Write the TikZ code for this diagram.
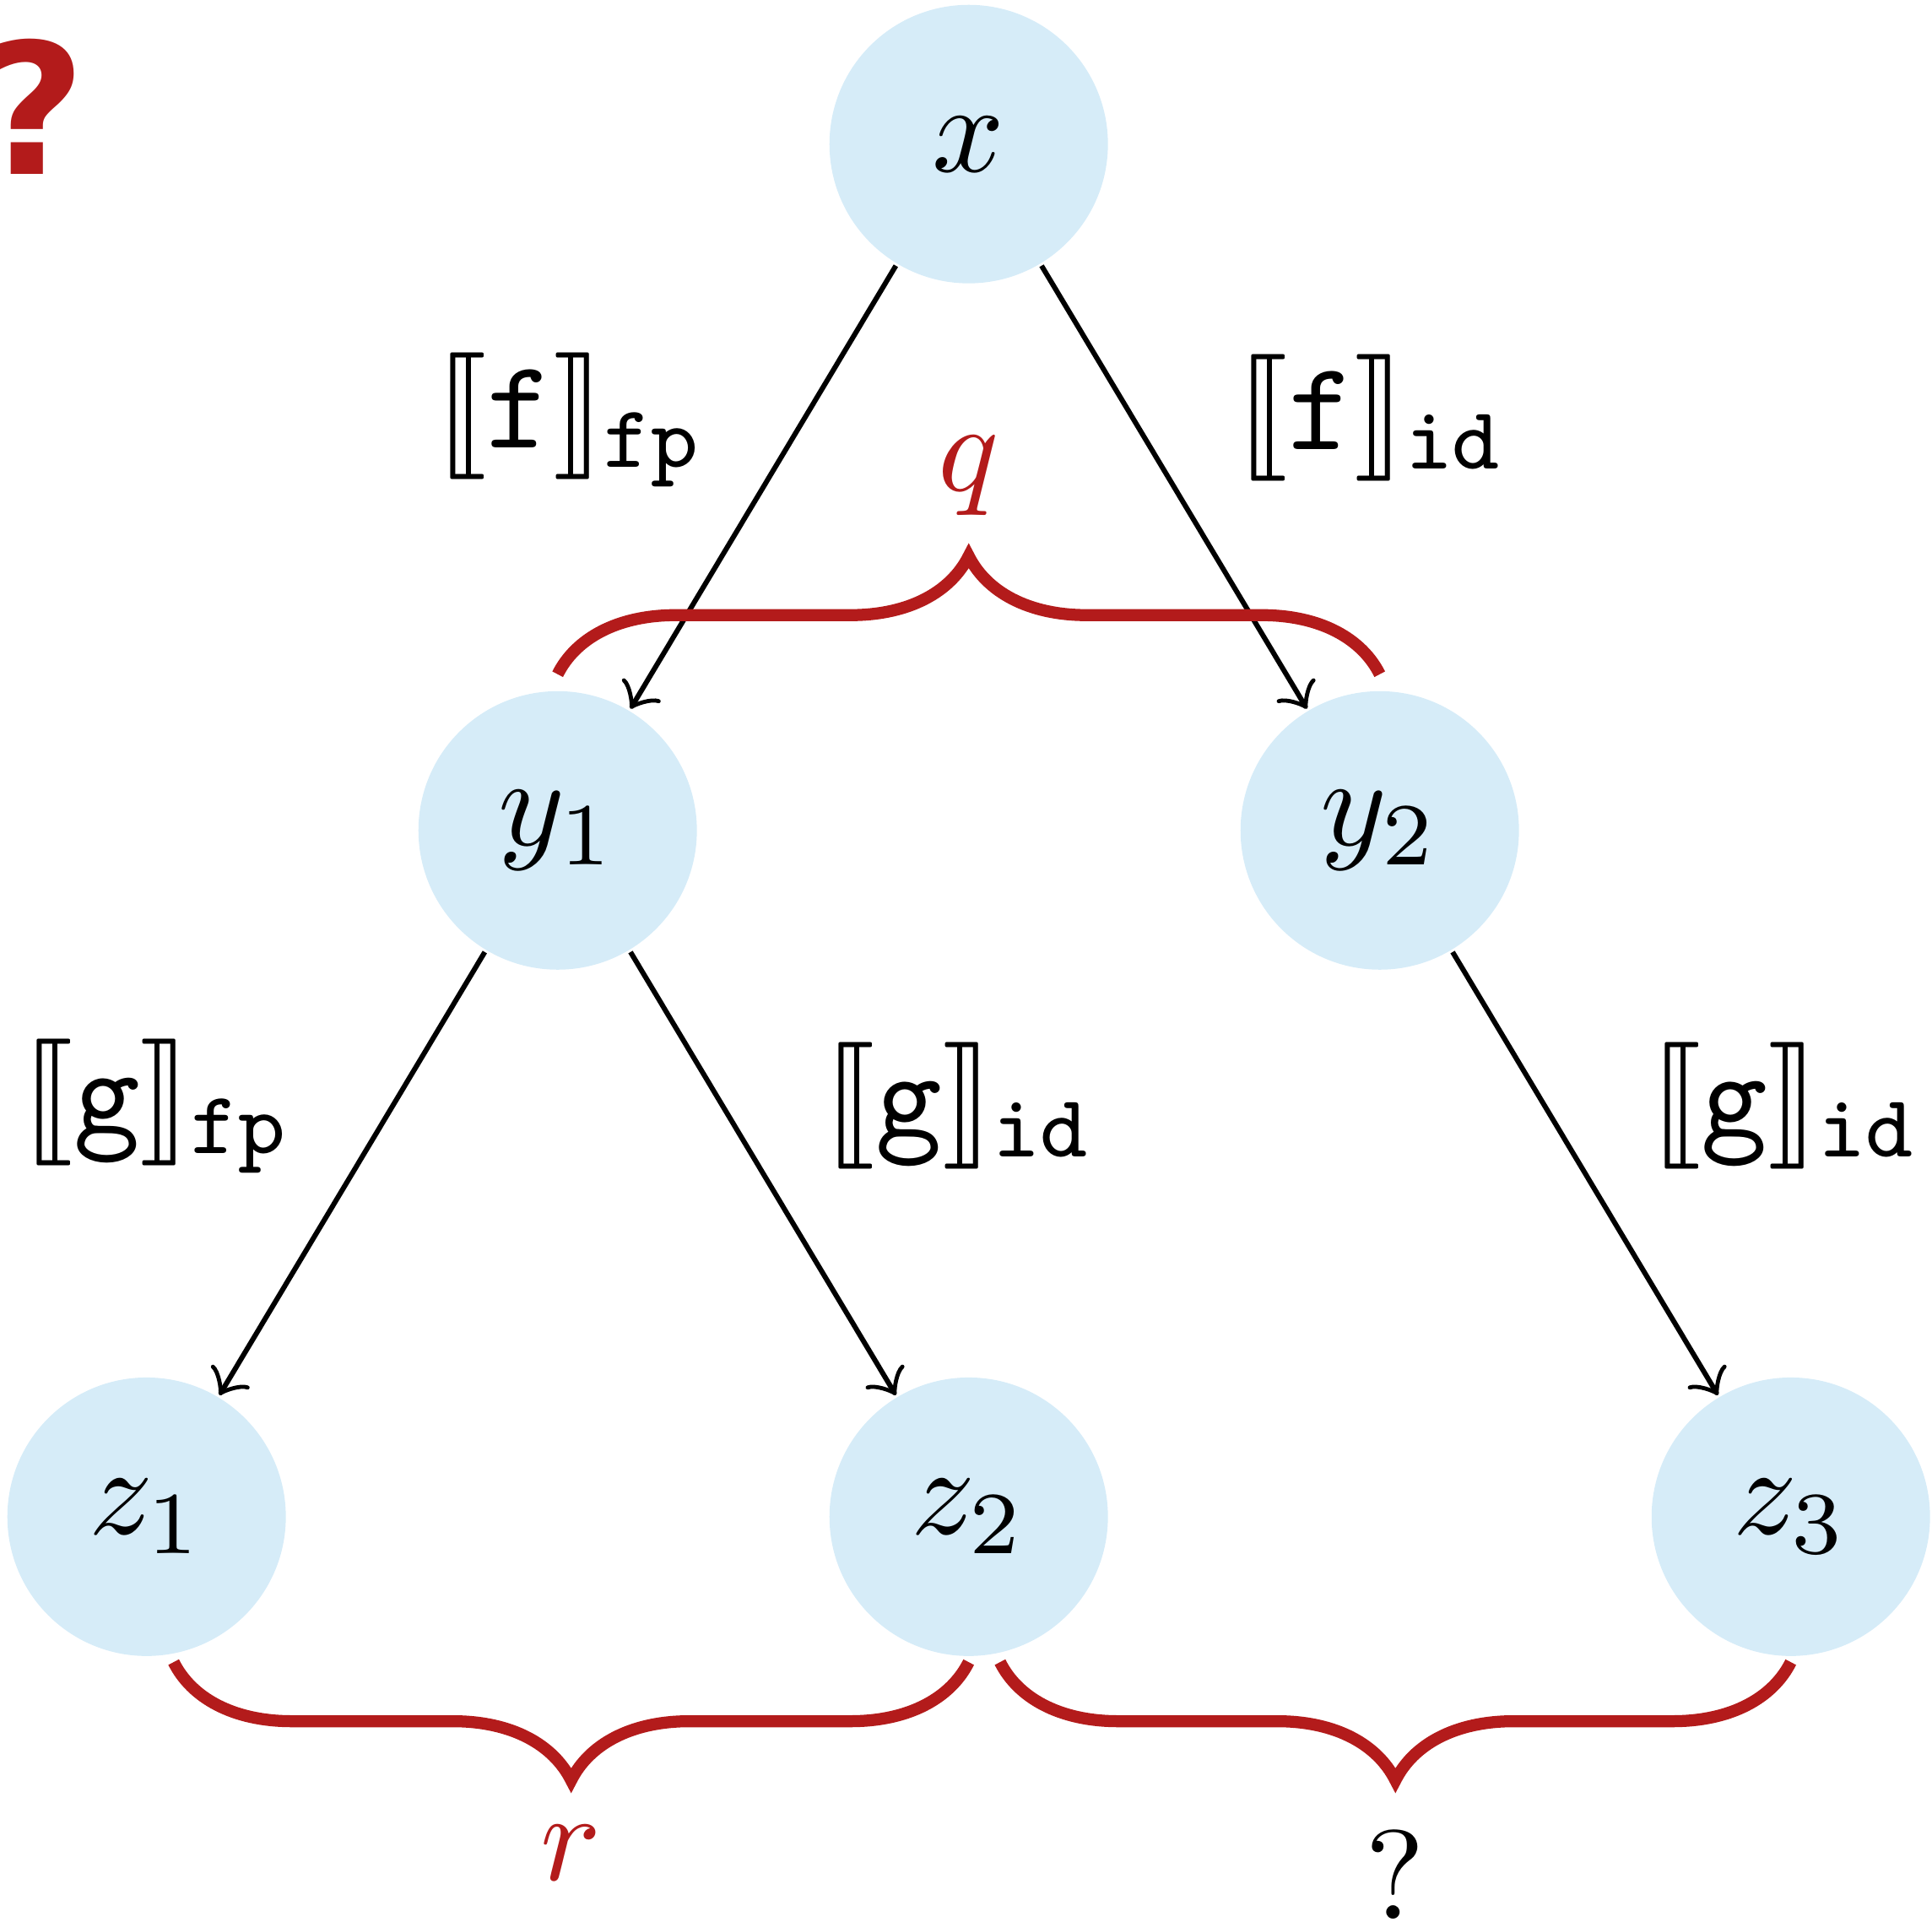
\documentclass[tikz,border=0pt]{standalone}
\usepackage{fontspec}
\usepackage{stmaryrd}
\newfontfamily\markfont{DejaVu Sans}
\usetikzlibrary{trees, decorations.pathreplacing}
\definecolor{nodeblue}{RGB}{214,236,248}
\definecolor{darkred}{RGB}{179,27,27}
\tikzset{
  vtx/.style={circle, fill=nodeblue, minimum size=7.73mm, inner sep=0pt},
  lbl/.style={inner sep=1pt},
  brc/.style={decorate, decoration={brace, amplitude=3.28mm}, line width=0.95pt, color=darkred},
}
\begin{document}
\begin{tikzpicture}[level distance=1.905cm, sibling distance=2.282cm, edge from parent/.style={draw, ->}]
\useasboundingbox (-2.689,-4.933) rectangle (2.674,0.400);
\node[vtx] (x) {$x$}
  child {node[vtx] (y1) {$y_1$}
    child {node[vtx] (z1) {$z_1$}}
    child {node[vtx] (z2) {$z_2$}}
  }
  child {node[vtx] (y2) {$y_2$}
    child[missing]
    child {node[vtx] (z3) {$z_3$}}
  };
\node[lbl] (fxy1) at ([shift={(-1.106,-0.765)}]x) {$\llbracket\mathtt{f}\rrbracket_{\mathtt{fp}}$};
\node[lbl] (fxy2) at ([shift={(1.118,-0.760)}]x) {$\llbracket\mathtt{f}\rrbracket_{\mathtt{id}}$};
\node[lbl] (gy1z1) at ([shift={(-1.112,-0.765)}]y1) {$\llbracket\mathtt{g}\rrbracket_{\mathtt{fp}}$};
\node[lbl] (gy1z2) at ([shift={(1.114,-0.765)}]y1) {$\llbracket\mathtt{g}\rrbracket_{\mathtt{id}}$};
\node[lbl] (gy2z3) at ([shift={(1.124,-0.765)}]y2) {$\llbracket\mathtt{g}\rrbracket_{\mathtt{id}}$};
\draw[brc] ([yshift=0.4mm]y1.north) -- node[midway, yshift=5.5mm] (q) {$q$} ([yshift=0.4mm]y2.north);
\draw[brc] ([yshift=-0.1mm]z2.south) -- node[midway, yshift=-5.3mm] (r) {$r$} ([xshift=0.75mm, yshift=-0.1mm]z1.south);
\draw[brc] ([yshift=-0.1mm]z3.south) -- node[midway, yshift=-5.9mm, text=black] (unk) {$?$} ([xshift=0.87mm, yshift=-0.1mm]z2.south);
\node[anchor=base west, inner sep=0pt, text=darkred, font=\markfont\bfseries\fontsize{14.4}{17}\selectfont] (mark) at (-2.752,-0.083) {?};
\end{tikzpicture}
\end{document}
